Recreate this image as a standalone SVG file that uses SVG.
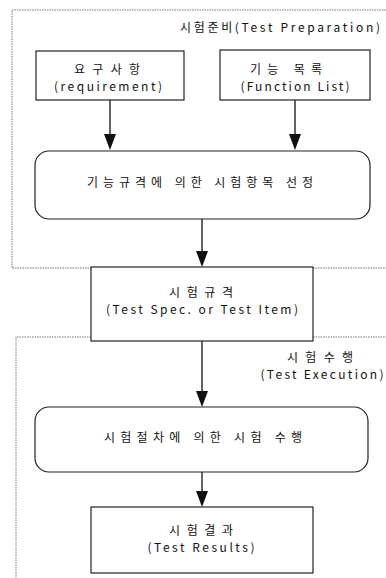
<svg xmlns="http://www.w3.org/2000/svg" width="386" height="578" viewBox="0 0 386 578">
<defs>
<style>
text{font-family:"Noto Sans CJK KR","Liberation Sans",sans-serif;font-size:12px;fill:#111;text-anchor:middle}
.box{fill:#fff;stroke:#222;stroke-width:1.2}
.region{fill:none;stroke:#777;stroke-width:1;stroke-dasharray:1.5,1}
.line{stroke:#111;stroke-width:1.3}
.head{fill:#111}
</style>
</defs>
<rect width="386" height="578" fill="#fff"/>
<g id="region-prep">
<polyline class="region" points="386,10 12,10 12,268 91,268"/>
<line class="region" x1="313" y1="268" x2="386" y2="268"/>
<text x="280" y="32" textLength="200" lengthAdjust="spacing">시험준비(Test Preparation)</text>
</g>
<g id="region-exec">
<polyline class="region" points="91,337 16,337 16,578"/>
<line class="region" x1="313" y1="337" x2="386" y2="337"/>
<text x="320" y="362" textLength="66" lengthAdjust="spacing">시험수행</text>
<text x="322" y="379" textLength="123" lengthAdjust="spacing">(Test Execution)</text>
</g>
<g id="connectors">
<line class="line" x1="110" y1="100" x2="110" y2="134"/>
<path class="head" d="M104,134 L116,134 L110,150 Z"/>
<line class="line" x1="295" y1="100" x2="295" y2="134"/>
<path class="head" d="M289,134 L301,134 L295,150 Z"/>
<line class="line" x1="202" y1="219" x2="202" y2="251"/>
<path class="head" d="M196,251 L208,251 L202,267 Z"/>
<line class="line" x1="202" y1="341" x2="202" y2="391"/>
<path class="head" d="M196,391 L208,391 L202,407 Z"/>
<line class="line" x1="202" y1="472" x2="202" y2="491"/>
<path class="head" d="M196,491 L208,491 L202,507 Z"/>
</g>
<g id="node-requirement">
<rect class="box" x="36" y="51" width="148" height="49"/>
<text x="107" y="74" textLength="66" lengthAdjust="spacing">요구사항</text>
<text x="108" y="91" textLength="108" lengthAdjust="spacing">(requirement)</text>
</g>
<g id="node-function-list">
<rect class="box" x="220" y="50" width="150" height="50"/>
<text x="286" y="74" textLength="72" lengthAdjust="spacing">기능 목록</text>
<text x="295" y="91" textLength="109" lengthAdjust="spacing">(Function List)</text>
</g>
<g id="node-select">
<rect class="box" x="35" y="151" width="335" height="68" rx="14" ry="14"/>
<text x="200" y="187" textLength="226" lengthAdjust="spacing">기능규격에 의한 시험항목 선정</text>
</g>
<g id="node-spec">
<rect class="box" x="91" y="267" width="222" height="74"/>
<text x="201" y="297" textLength="64" lengthAdjust="spacing">시험규격</text>
<text x="202" y="314" textLength="192" lengthAdjust="spacing">(Test Spec. or Test Item)</text>
</g>
<g id="node-execute">
<rect class="box" x="35" y="407" width="333" height="65" rx="14" ry="14"/>
<text x="203" y="442" textLength="198" lengthAdjust="spacing">시험절차에 의한 시험 수행</text>
</g>
<g id="node-results">
<rect class="box" x="91" y="507" width="222" height="66"/>
<text x="201" y="535" textLength="64" lengthAdjust="spacing">시험결과</text>
<text x="201" y="552" textLength="107" lengthAdjust="spacing">(Test Results)</text>
</g>
</svg>
